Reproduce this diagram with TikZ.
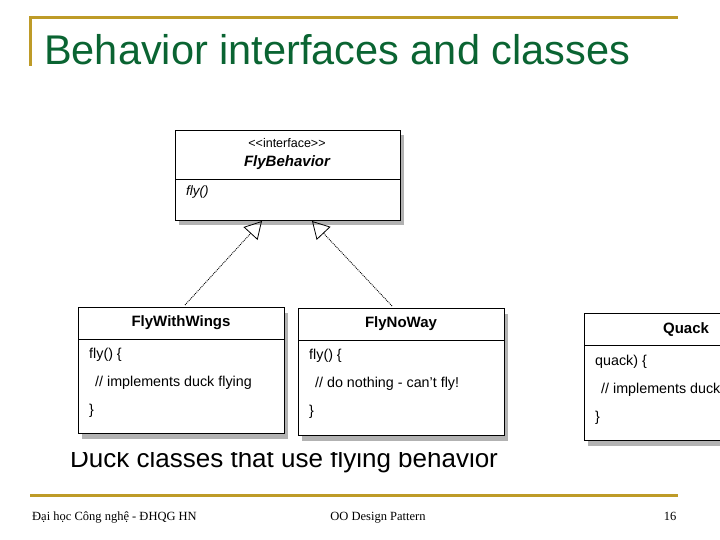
\documentclass[tikz,border=0pt]{standalone}
\usepackage{fontspec}
\setmainfont{Liberation Sans}
\newfontfamily\footfont{Liberation Serif}
\usetikzlibrary{arrows.meta,shadows,positioning}
\definecolor{gold}{RGB}{190,155,40}
\definecolor{titlegreen}{RGB}{10,100,50}
\tikzset{
	goldline/.style={gold, line width=3pt},
	umlbox/.style={draw, line width=1pt, fill=white, anchor=north west, inner sep=0pt,
		drop shadow={shadow xshift=3pt, shadow yshift=-5pt, fill=black!60}},
	member/.style={anchor=west, font=\fontsize{14.3}{15}\selectfont, inner sep=0pt},
	realize/.style={densely dotted, line width=0.9pt, -{Triangle[open, length=17pt, width=19pt, line width=0.8pt]}},
	footer/.style={font=\footfont\fontsize{12.5}{14}\selectfont, inner sep=0pt}
}
\begin{document}
\begin{tikzpicture}[x=1pt,y=-1pt]
		\useasboundingbox (0,0) rectangle (720,540);
		
		%Frame and title
		\draw[goldline] (30,66) -- (30,18) -- (678,18);
		\node (title) at (44,65) [anchor=base west, inner sep=0pt, titlegreen,
		font=\fontsize{41.5}{44}\selectfont]{Behavior interfaces and classes};
		
		%Caption, partly hidden by the boxes
		\node (caption) at (70,467) [anchor=base west, inner sep=0pt, font=\fontsize{26}{28}\selectfont]{Duck classes that use flying behavior};
		\fill[white] (60,420) rectangle (720,452);
		
		%Interface
		\node (flyBehavior) at (175,130) [umlbox, minimum width=225pt, minimum height=90pt]{};
		\draw[line width=1pt] (175,180) -- (400,180);
		\node (stereo) at (287,143) [font=\fontsize{12.5}{13}\selectfont]{<{}<interface>{}>};
		\node (flyName) at (287,163) [font=\bfseries\itshape\fontsize{15}{16}\selectfont]{FlyBehavior};
		\node (flyOp) at (186,192) [member, font=\itshape\fontsize{13.5}{14}\selectfont]{fly()};
		
		%Classes
		\node (flyWithWings) at (78,307) [umlbox, minimum width=206pt, minimum height=126pt]{};
		\draw[line width=1pt] (78,339) -- (284,339);
		\node (wingsName) at (181,323) [font=\bfseries\fontsize{15}{16}\selectfont]{FlyWithWings};
		\node (wingsA) at (89,355) [member]{fly() \{};
		\node (wingsB) at (95,383) [member]{// implements duck flying};
		\node (wingsC) at (89,411) [member]{\}};
		
		\node (flyNoWay) at (298,308) [umlbox, minimum width=206pt, minimum height=127pt]{};
		\draw[line width=1pt] (298,340) -- (504,340);
		\node (noWayName) at (401,324) [font=\bfseries\fontsize{15}{16}\selectfont]{FlyNoWay};
		\node (noWayA) at (309,356) [member]{fly() \{};
		\node (noWayB) at (315,384) [member]{// do nothing - can't fly!};
		\node (noWayC) at (309,412) [member]{\}};
		
		\node (quack) at (584,313) [umlbox, minimum width=150pt, minimum height=127pt]{};
		\draw[line width=1pt] (584,345) -- (734,345);
		\node (quackName) at (686,330) [font=\bfseries\fontsize{15}{16}\selectfont]{Quack};
		\node (quackA) at (595,362) [member]{quack) \{};
		\node (quackB) at (601,390) [member]{// implements duck quacking};
		\node (quackC) at (595,418) [member]{\}};
		
		%Links
		\coordinate (wingsTip) at (262,221);
		\coordinate (noWayTip) at (312,221);
		\draw[realize] (flyWithWings.north west -| 185,0) ++(0,-2) -- (wingsTip);
		\draw[realize] (flyNoWay.north west -| 392,0) ++(0,-2) -- (noWayTip);
		
		%Footer
		\draw[goldline] (30,495) -- (678,495);
		\node (school) at (32,517) [footer, anchor=west]{Đại học Công nghệ - ĐHQG HN};
		\node (course) at (378,518) [footer]{OO Design Pattern};
		\node (page) at (670,516) [footer]{16};
\end{tikzpicture}
\end{document}
